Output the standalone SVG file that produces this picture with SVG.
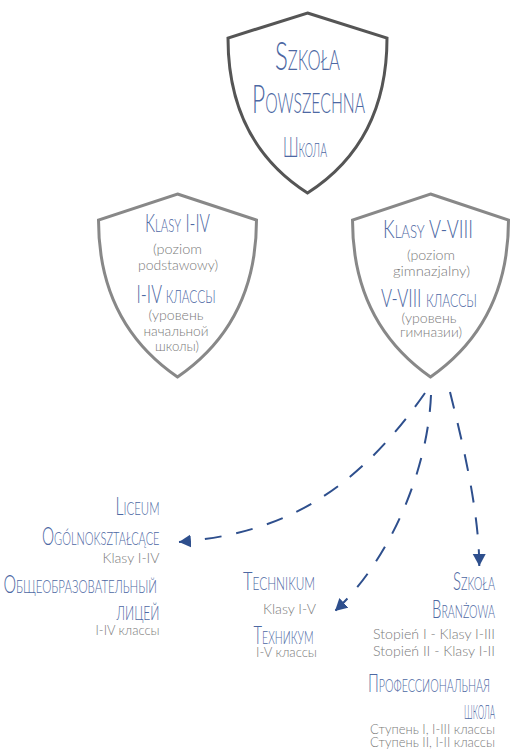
<svg xmlns="http://www.w3.org/2000/svg" width="511" height="752" viewBox="0 0 511 752">
<style>
.bg{fill:#ffffff}
.shield{fill:#ffffff;stroke-width:3;stroke-linejoin:miter}
.main{stroke:#555555}
.sub{stroke:#888888}
.t{font-family:Lato,"Liberation Sans",sans-serif;font-weight:300;font-variant:small-caps;fill:#4d68a3}
.g{font-family:Lato,"Liberation Sans",sans-serif;font-weight:300;font-size:14px;fill:#7a7a7a}
.m{text-anchor:middle}
.e{text-anchor:end}
.link{fill:none;stroke:#2e4f8d;stroke-width:2;stroke-dasharray:17 15}
</style>
<defs>
<marker id="ah" markerUnits="userSpaceOnUse" markerWidth="13" markerHeight="14" refX="12" refY="7" orient="auto">
<path d="M0,0.5 L12,7 L0,13.5 Z" fill="#2e4f8d"/>
</marker>
</defs>
<rect class="bg" x="0" y="0" width="511" height="752"/>

<g id="connectors">
<path class="link" d="M425,393 C350,500 275,534 179,542" marker-end="url(#ah)"/>
<path class="link" d="M431,395 C428,470 390,560 335,611" marker-end="url(#ah)"/>
<path class="link" d="M450,392 C462,440 479,510 479.3,566" marker-end="url(#ah)"/>
</g>

<g id="node-szkola-powszechna">
<path class="shield main" d="M307.5,13 L387,38 C387,110 359,160 307.5,193 C256,160 228,110 228,38 Z"/>
<text class="t m" x="307.5" y="70" font-size="39" textLength="65" lengthAdjust="spacingAndGlyphs">Szkoła</text>
<text class="t m" x="308.5" y="113" font-size="39" textLength="113" lengthAdjust="spacingAndGlyphs">Powszechna</text>
<text class="t m" x="305" y="157" font-size="28" textLength="44" lengthAdjust="spacingAndGlyphs">Школа</text>
</g>

<g id="node-klasy-1-4">
<path class="shield sub" d="M177.5,194 L256.5,220 C256.5,292 228.5,342 177.5,377 C126.5,342 98.5,292 98.5,220 Z"/>
<text class="t m" x="177.5" y="231.7" font-size="25" textLength="65" lengthAdjust="spacingAndGlyphs">Klasy I-IV</text>
<text class="g m" x="177.5" y="254" textLength="49" lengthAdjust="spacingAndGlyphs">(poziom</text>
<text class="g m" x="178" y="270" textLength="80" lengthAdjust="spacingAndGlyphs">podstawowy)</text>
<text class="t m" x="176" y="303.3" font-size="25" textLength="79" lengthAdjust="spacingAndGlyphs">I-IV классы</text>
<text class="g m" x="176" y="320" textLength="55" lengthAdjust="spacingAndGlyphs">(уровень</text>
<text class="g m" x="176" y="335.5" textLength="65" lengthAdjust="spacingAndGlyphs">начальной</text>
<text class="g m" x="177" y="351" textLength="44" lengthAdjust="spacingAndGlyphs">школы)</text>
</g>

<g id="node-klasy-5-8">
<path class="shield sub" d="M430.5,194 L508.5,220 C508.5,292 480.5,342 430.5,377 C380.5,342 352.5,292 352.5,220 Z"/>
<text class="t m" x="428" y="238.3" font-size="25" textLength="90" lengthAdjust="spacingAndGlyphs">Klasy V-VIII</text>
<text class="g m" x="431" y="260" textLength="48" lengthAdjust="spacingAndGlyphs">(poziom</text>
<text class="g m" x="431.5" y="276" textLength="77" lengthAdjust="spacingAndGlyphs">gimnazjalny)</text>
<text class="t m" x="429" y="306.7" font-size="25" textLength="96" lengthAdjust="spacingAndGlyphs">V-VIII классы</text>
<text class="g m" x="429" y="322.7" textLength="55" lengthAdjust="spacingAndGlyphs">(уровень</text>
<text class="g m" x="431" y="337" textLength="62" lengthAdjust="spacingAndGlyphs">гимназии)</text>
</g>

<g id="node-liceum">
<text class="t e" x="159.5" y="515" font-size="25" textLength="44" lengthAdjust="spacingAndGlyphs">Liceum</text>
<text class="t e" x="159.5" y="545" font-size="25" textLength="117.5" lengthAdjust="spacingAndGlyphs">Ogólnokształcące</text>
<text class="g e" x="159.5" y="563" textLength="57" lengthAdjust="spacingAndGlyphs">Klasy I-IV</text>
<text class="t e" x="157" y="593" font-size="25" textLength="153.5" lengthAdjust="spacingAndGlyphs">Общеобразовательный</text>
<text class="t e" x="159.5" y="620" font-size="29" textLength="43" lengthAdjust="spacingAndGlyphs">лицей</text>
<text class="g e" x="159.5" y="635" textLength="64" lengthAdjust="spacingAndGlyphs">I-IV классы</text>
</g>

<g id="node-technikum">
<text class="t e" x="315" y="590" font-size="25" textLength="72" lengthAdjust="spacingAndGlyphs">Technikum</text>
<text class="g e" x="316" y="614" textLength="53" lengthAdjust="spacingAndGlyphs">Klasy I-V</text>
<text class="t e" x="313.5" y="644" font-size="25" textLength="60" lengthAdjust="spacingAndGlyphs">Техникум</text>
<text class="g e" x="317" y="657" textLength="61" lengthAdjust="spacingAndGlyphs">I-V классы</text>
</g>

<g id="node-szkola-branzowa">
<text class="t e" x="495" y="590" font-size="25" textLength="42" lengthAdjust="spacingAndGlyphs">Szkoła</text>
<text class="t e" x="495" y="618.3" font-size="25" textLength="63" lengthAdjust="spacingAndGlyphs">Branżowa</text>
<text class="g e" x="495" y="638.5" textLength="122" lengthAdjust="spacingAndGlyphs">Stopień I - Klasy I-III</text>
<text class="g e" x="495" y="656" textLength="122" lengthAdjust="spacingAndGlyphs">Stopień II - Klasy I-II</text>
<text class="t e" x="490" y="691.7" font-size="25" textLength="122" lengthAdjust="spacingAndGlyphs">Профессиональная</text>
<text class="t e" x="495" y="719.3" font-size="29" textLength="31" lengthAdjust="spacingAndGlyphs">школа</text>
<text class="g e" x="495" y="733.5" textLength="125" lengthAdjust="spacingAndGlyphs">Ступень I, I-III классы</text>
<text class="g e" x="495" y="747" textLength="125" lengthAdjust="spacingAndGlyphs">Ступень II, I-II классы</text>
</g>
</svg>
